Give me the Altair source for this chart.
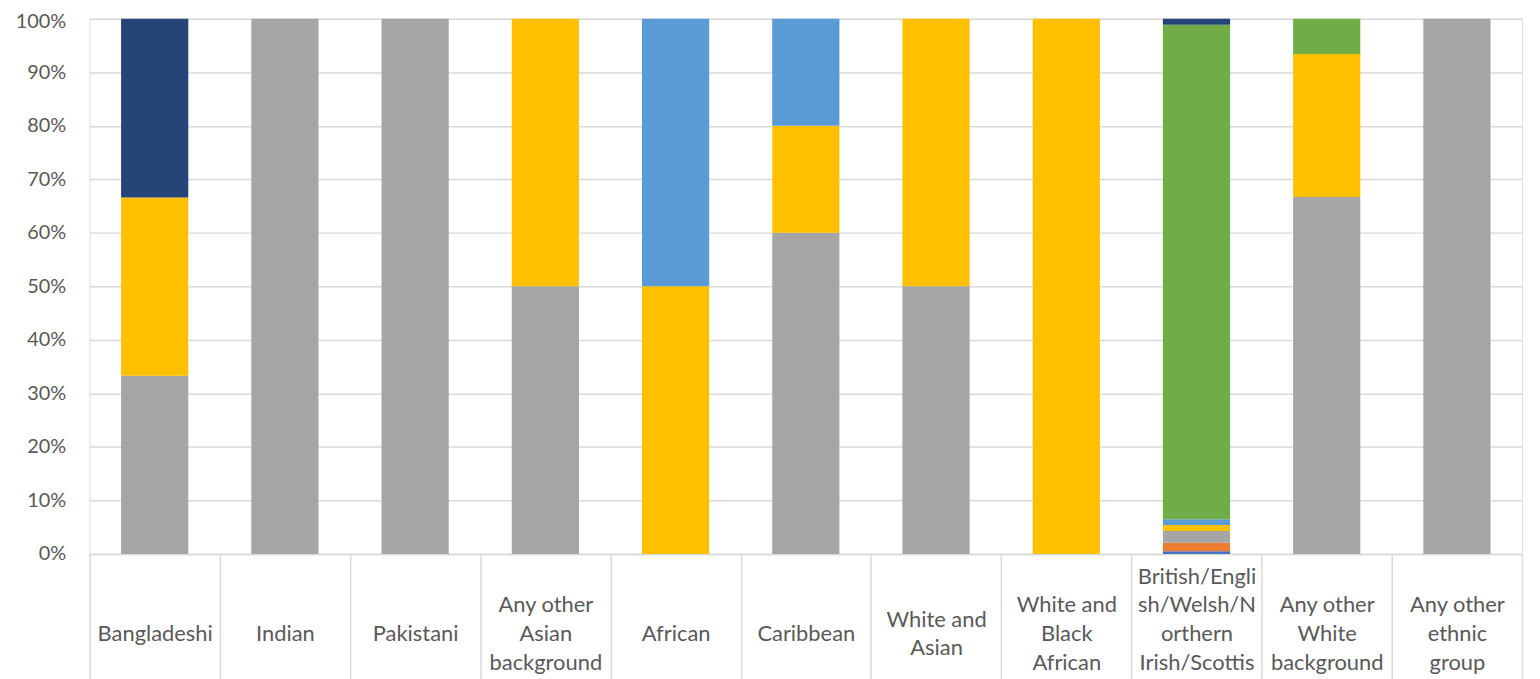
import altair as alt
import pandas as pd

categories = [
    "Bangladeshi", "Indian", "Pakistani", "Any other|Asian|background",
    "African", "Caribbean", "White and|Asian", "White and|Black|African",
    "British/Engli|sh/Welsh/N|orthern|Irish/Scottis|", "Any other|White|background",
    "Any other|ethnic|group",
]

series_names = ["Series 1", "Series 2", "Series 3", "Series 4", "Series 5", "Series 6", "Series 7"]
series_colors = ["#4472C4", "#ED7D31", "#A5A5A5", "#FFC000", "#5B9BD5", "#70AD47", "#264478"]

s1 = [0, 0, 0, 0, 0, 0, 0, 0, 0.5, 0, 0]
s2 = [0, 0, 0, 0, 0, 0, 0, 0, 1.6, 0, 0]
s3 = [33.3, 100, 100, 50, 0, 60, 50, 0, 2.2, 66.7, 100]
s4 = [33.3, 0, 0, 50, 50, 20, 50, 100, 1.1, 26.7, 0]
s5 = [0, 0, 0, 0, 50, 20, 0, 0, 1.1, 0, 0]
s6 = [0, 0, 0, 0, 0, 0, 0, 0, 92.4, 6.6, 0]
s7 = [33.4, 0, 0, 0, 0, 0, 0, 0, 1.1, 0, 0]

y_ticks = [0, 10, 20, 30, 40, 50, 60, 70, 80, 90, 100]

rows = []
for si, (name, vals) in enumerate(zip(series_names, [s1, s2, s3, s4, s5, s6, s7])):
    for ci, cat in enumerate(categories):
        if vals[ci] > 0:
            rows.append({"category": cat, "series": name, "order": si, "value": vals[ci]})
df = pd.DataFrame(rows)

FONT = "Lato"
GRID = "#D9D9D9"
TEXT = "#595959"
TICK = 135
LINE_H = 28.7
BASE_PAD = 80 - TICK


def pad_for(n):
    return BASE_PAD - (n - 1) * LINE_H / 2


label_padding = {
    "condition": [
        {"test": f"length(split(datum.label, '|')) == {n}", "value": pad_for(n)}
        for n in (2, 3, 4, 5)
    ],
    "value": pad_for(1),
}

y_label_offset = {"condition": {"test": "datum.value == 100", "value": 3}, "value": 0}

chart = alt.Chart(df).mark_bar(width={"band": 0.516}).encode(
    x=alt.X(
        "category:N",
        sort=categories,
        scale=alt.Scale(paddingInner=0, paddingOuter=0),
        axis=alt.Axis(
            title=None,
            labelAngle=0,
            labelExpr="split(datum.label, '|')",
            labelBaseline="middle",
            labelPadding=label_padding,
            labelLineHeight=LINE_H,
            labelFontSize=22,
            labelFont=FONT,
            labelColor=TEXT,
            labelLimit=0,
            tickBand="extent",
            tickSize=TICK,
            tickColor=GRID,
            tickWidth=1.5,
            domainColor=GRID,
            domainWidth=1.5,
            grid=False,
        ),
    ),
    y=alt.Y(
        "value:Q",
        stack="zero",
        scale=alt.Scale(domain=[0, 100], nice=False),
        axis=alt.Axis(
            title=None,
            values=y_ticks,
            labelExpr="datum.value + '%'",
            labelFontSize=20,
            labelFont=FONT,
            labelColor=TEXT,
            labelPadding=24,
            labelOffset=y_label_offset,
            tickSize=0,
            domain=False,
            gridColor=GRID,
            gridWidth=1.5,
        ),
    ),
    color=alt.Color(
        "series:N",
        scale=alt.Scale(domain=series_names, range=series_colors),
        legend=None,
    ),
    order=alt.Order("order:Q", sort="ascending"),
).properties(
    width=1440,
    height=538,
    autosize=alt.AutoSizeParams(type="none"),
    padding={"left": 82, "top": 9, "right": 10, "bottom": 140},
).configure_view(stroke=None).configure(background="white")

chart.save("out.html", embed_options={"renderer": "svg", "actions": False})
